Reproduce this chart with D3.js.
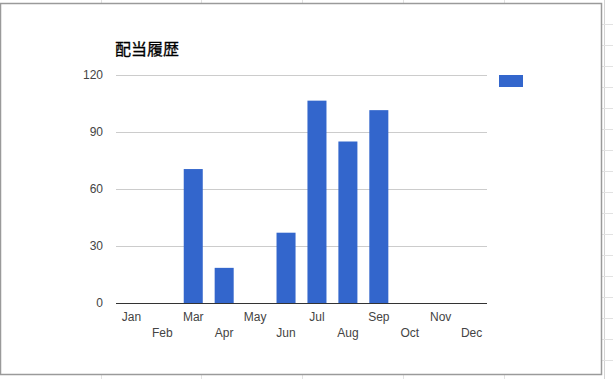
<!DOCTYPE html>
<html>
<head>
<meta charset="utf-8">
<script src="https://cdn.jsdelivr.net/npm/d3@7"></script>
<style>
  html, body { margin: 0; padding: 0; background: #fff; }
  svg { display: block; }
</style>
</head>
<body>
<svg id="chart" width="613" height="379"></svg>
<script>
const title = "配当履歴";
const months = ["Jan","Feb","Mar","Apr","May","Jun","Jul","Aug","Sep","Oct","Nov","Dec"];
const dividends = [0, 0, 70.5, 18.5, 0, 37, 106.5, 85, 101.5, 0, 0, 0];
const yTicks = [0, 30, 60, 90, 120];
const seriesName = "";

const svg = d3.select("#chart");
const W = 613, H = 379;

// spreadsheet background grid (outside the chart frame)
const bg = svg.append("g");
[101, 201, 302, 403, 504].forEach(x => {
  bg.append("line").attr("x1", x + 0.5).attr("x2", x + 0.5).attr("y1", 0).attr("y2", H)
    .attr("stroke", "#e2e2e2");
});
bg.append("line").attr("x1", 604.5).attr("x2", 604.5).attr("y1", 0).attr("y2", H).attr("stroke", "#d4d4d4");
for (let y = 24; y < H; y += 21) {
  bg.append("line").attr("x1", 602).attr("x2", W).attr("y1", y + 0.5).attr("y2", y + 0.5)
    .attr("stroke", "#e2e2e2");
}
// chart frame
svg.append("rect").attr("x", 0.5).attr("y", 3.5).attr("width", 601).attr("height", 371)
  .attr("fill", "#fff").attr("stroke", "#9a9a9a").attr("stroke-width", 1.5);

const plot = { left: 116, right: 487, top: 75, bottom: 303 };

const x = d3.scaleBand().domain(months).range([plot.left, plot.right]).paddingInner(0.385).paddingOuter(0.19);
const y = d3.scaleLinear().domain([0, 120]).range([plot.bottom, plot.top]);

// gridlines
svg.append("g").selectAll("line").data(yTicks.filter(d => d !== 0)).join("line")
  .attr("x1", plot.left).attr("x2", plot.right)
  .attr("y1", d => Math.round(y(d)) + 0.5).attr("y2", d => Math.round(y(d)) + 0.5)
  .attr("stroke", "#cccccc");

// y axis labels
const yAxis = d3.axisLeft(y).tickValues(yTicks).tickSize(0).tickPadding(13);
const gy = svg.append("g").attr("transform", `translate(${plot.left},0)`).call(yAxis);
gy.select(".domain").remove();
gy.selectAll("text").attr("font-family", "Liberation Sans, Arial, sans-serif")
  .attr("font-size", 12).attr("fill", "#444");

// bars
svg.append("g").selectAll("rect").data(months.map((m, i) => ({ m, v: dividends[i] })).filter(d => d.v > 0))
  .join("rect")
  .attr("x", d => x(d.m))
  .attr("width", x.bandwidth())
  .attr("y", d => y(d.v))
  .attr("height", d => y(0) - y(d.v))
  .attr("fill", "#3366cc");

// baseline
svg.append("line").attr("x1", plot.left).attr("x2", plot.right)
  .attr("y1", plot.bottom + 0.5).attr("y2", plot.bottom + 0.5).attr("stroke", "#333");

// x axis labels (staggered two rows)
const xAxis = d3.axisBottom(x).tickSize(0).tickPadding(0);
const gx = svg.append("g").attr("transform", `translate(0,${plot.bottom})`).call(xAxis);
gx.select(".domain").remove();
gx.selectAll("text")
  .attr("font-family", "Liberation Sans, Arial, sans-serif")
  .attr("font-size", 12).attr("fill", "#444")
  .attr("dy", null)
  .attr("y", (d, i) => i % 2 === 0 ? 18 : 34);

// title
svg.append("text").attr("x", 115).attr("y", 55).text(title)
  .attr("font-family", "Noto Sans CJK JP, sans-serif").attr("font-size", 16)
  .attr("font-weight", "normal").attr("fill", "#000")
  .attr("stroke", "#000").attr("stroke-width", 0.3);

// legend
const lg = svg.append("g").attr("transform", "translate(499,75)");
lg.append("rect").attr("width", 24).attr("height", 12).attr("fill", "#3366cc");
lg.append("text").attr("x", 30).attr("y", 10).text(seriesName)
  .attr("font-family", "Liberation Sans, Arial, sans-serif").attr("font-size", 12).attr("fill", "#222");
</script>
</body>
</html>
